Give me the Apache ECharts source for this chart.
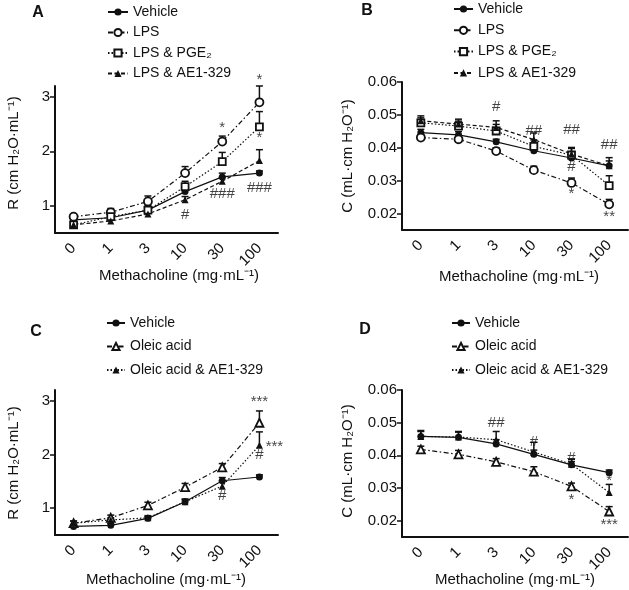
<!DOCTYPE html>
<html><head><meta charset="utf-8">
<script src="https://cdn.jsdelivr.net/npm/echarts@6/dist/echarts.min.js"></script>
<style>html,body{margin:0;padding:0;background:#fff}#c{width:629px;height:590px}</style>
</head><body><div id="c"></div>
<script>
// ---- data ----
const doses = ['0', '1', '3', '10', '30', '100'];
const rTicks = [1, 2, 3];
const cTicks = [0.02, 0.03, 0.04, 0.05, 0.06];

// Panel A: resistance (LPS)
const aVehicle = [0.74, 0.78, 0.92, 1.26, 1.53, 1.60];
const aVehicleErr = [0.05, 0.05, 0.05, 0.08, 0.07, 0.04];
const aLPS = [0.80, 0.88, 1.08, 1.60, 2.18, 2.90];
const aLPSErr = [0.05, 0.07, 0.10, 0.12, 0.10, 0.30];
const aPGE2 = [0.65, 0.80, 0.92, 1.35, 1.81, 2.45];
const aPGE2Err = [0.06, 0.10, 0.08, 0.10, 0.17, 0.28];
const aAE1 = [0.65, 0.72, 0.85, 1.11, 1.45, 1.83];
const aAE1Err = [0.04, 0.05, 0.06, 0.06, 0.07, 0.20];
// [dose index, value, text]
const aNotes = [[5, 3.15, '*'], [4, 2.43, '*'], [5, 2.25, '*'], [3, 0.83, '#'], [4, 1.22, '###'], [5, 1.33, '###']];

// Panel B: compliance (LPS)
const bVehicle = [0.0446, 0.0439, 0.0418, 0.0391, 0.0369, 0.0345];
const bVehicleErr = [0.0010, 0.0010, 0.0008, 0.0010, 0.0008, 0.0015];
const bLPS = [0.0431, 0.0426, 0.0390, 0.0332, 0.0293, 0.0228];
const bLPSErr = [0.0008, 0.0008, 0.0010, 0.0012, 0.0015, 0.0015];
const bPGE2 = [0.0476, 0.0466, 0.0451, 0.0404, 0.0378, 0.0285];
const bPGE2Err = [0.0015, 0.0015, 0.0020, 0.0020, 0.0020, 0.0030];
const bAE1 = [0.0482, 0.0472, 0.0462, 0.0425, 0.0381, 0.0345];
const bAE1Err = [0.0015, 0.0015, 0.0020, 0.0020, 0.0020, 0.0025];
const bNotes = [[2, 0.0523, '#'], [3, 0.0450, '##'], [4, 0.0455, '##'], [4, 0.0342, '#'], [5, 0.0409, '##'], [4, 0.0260, '*'], [5, 0.0189, '**']];

// Panel C: resistance (oleic acid)
const cVehicle = [0.66, 0.68, 0.81, 1.12, 1.51, 1.58];
const cVehicleErr = [0.03, 0.03, 0.03, 0.04, 0.06, 0.04];
const cOleic = [0.72, 0.82, 1.05, 1.39, 1.76, 2.59];
const cOleicErr = [0.04, 0.05, 0.06, 0.07, 0.07, 0.22];
const cOAE1 = [0.72, 0.78, 0.82, 1.12, 1.41, 2.17];
const cOAE1Err = [0.04, 0.04, 0.04, 0.05, 0.10, 0.25];
const cNotes = [[5, 2.98, '***'], [5, 2.15, '***'], [5, 2.00, '#'], [4, 1.22, '#']];

// Panel D: compliance (oleic acid)
const dVehicle = [0.0458, 0.0455, 0.0435, 0.0403, 0.0371, 0.0347];
const dVehicleErr = [0.0018, 0.0018, 0.0013, 0.0013, 0.0010, 0.0008];
const dOleic = [0.0418, 0.0403, 0.0380, 0.0350, 0.0305, 0.0228];
const dOleicErr = [0.0010, 0.0012, 0.0010, 0.0015, 0.0010, 0.0015];
const dOAE1 = [0.0458, 0.0456, 0.0448, 0.0410, 0.0373, 0.0286];
const dOAE1Err = [0.0015, 0.0015, 0.0025, 0.0030, 0.0015, 0.0025];
const dNotes = [[2, 0.0500, '##'], [3, 0.0441, '#'], [4, 0.0392, '#'], [4, 0.0265, '*'], [5, 0.0187, '***'], [5, 0.0321, '*']];

// ---- styles ----
const FONT = '"Liberation Sans", Arial, sans-serif';
const INK = '#111';
const SOLID = 'solid', DASHDOT = [5, 2.5, 1.5, 2.5], DOTTED = [1.5, 2], DASHED = [4, 2.5];
const FILLED_CIRCLE = {symbol: 'circle', size: 7, fill: INK};
const OPEN_CIRCLE = {symbol: 'circle', size: 8, fill: '#fff'};
const OPEN_SQUARE = {symbol: 'rect', size: 7, fill: '#fff'};
const FILLED_TRI = {symbol: 'triangle', size: 7, fill: INK};
const OPEN_TRI = {symbol: 'triangle', size: 8, fill: '#fff'};
// label offsets for annotations (panel, note index) -> [dx, dy]
const noteOffsets = {'0-0': [0, -9], '2-1': [15, 0]};

function lineSeries(idx, name, vals, mark, dash) {
  return {
    type: 'line', name: name, xAxisIndex: idx, yAxisIndex: idx, data: vals,
    symbol: mark.symbol, symbolSize: mark.size, z: 4,
    itemStyle: {color: mark.fill, borderColor: INK, borderWidth: mark.fill === '#fff' ? 1.8 : 0},
    lineStyle: {color: INK, width: 1.2, type: dash},
    emphasis: {disabled: true}, animation: false
  };
}
function errSeries(idx, vals, errs) {
  return {
    type: 'custom', xAxisIndex: idx, yAxisIndex: idx, silent: true, z: 3, animation: false,
    data: vals.map((v, i) => [i, v, v + errs[i]]),
    renderItem: (params, api) => {
      const p0 = api.coord([api.value(0), api.value(1)]);
      const p1 = api.coord([api.value(0), api.value(2)]);
      const w = 3.5;
      return {type: 'group', children: [
        {type: 'line', shape: {x1: p0[0], y1: p0[1], x2: p1[0], y2: p1[1]}, style: {stroke: INK, lineWidth: 1.5}},
        {type: 'line', shape: {x1: p1[0] - w, y1: p1[1], x2: p1[0] + w, y2: p1[1]}, style: {stroke: INK, lineWidth: 1.5}}
      ]};
    }
  };
}
function noteSeries(idx, notes) {
  return {
    type: 'scatter', xAxisIndex: idx, yAxisIndex: idx, silent: true, symbolSize: 1, z: 5, animation: false,
    itemStyle: {color: 'rgba(0,0,0,0)'},
    data: notes.map((n, k) => ({
      value: [n[0], n[1]],
      label: {show: true, position: 'inside', formatter: n[2], offset: noteOffsets[idx + '-' + k] || [0, 0],
        fontSize: 15, color: INK, fontFamily: FONT}
    }))
  };
}

const grids = [
  {left: 55, top: 86, width: 223, height: 147},
  {left: 402, top: 82, width: 226, height: 148},
  {left: 55, top: 390, width: 223, height: 145},
  {left: 402, top: 390, width: 226, height: 147}
];
const xAxes = grids.map((g, i) => ({
  type: 'category', gridIndex: i, data: doses, boundaryGap: true,
  axisLine: {lineStyle: {color: INK, width: 2}},
  axisTick: {alignWithLabel: true, length: 4, lineStyle: {color: INK, width: 1.5}},
  axisLabel: {rotate: 45, fontSize: 15, color: INK, fontFamily: FONT, margin: 13, padding: [8, 0, 0, 0]}
}));
function yAxis(i, isR) {
  const ticks = isR ? rTicks : cTicks;
  return {
    type: 'value', gridIndex: i, min: isR ? 0.5 : 0.015, max: isR ? 3.2 : 0.06,
    splitLine: {show: false},
    axisLine: {show: true, lineStyle: {color: INK, width: 2}},
    axisTick: {show: true, length: 5, customValues: ticks, lineStyle: {color: INK, width: 1.5}},
    axisLabel: {customValues: ticks, fontSize: 15, color: INK, fontFamily: FONT, margin: 5,
      formatter: v => isR ? String(Math.round(v)) : v.toFixed(2)}
  };
}
const yAxes = [yAxis(0, true), yAxis(1, false), yAxis(2, true), yAxis(3, false)];

const series = [
  lineSeries(0, 'Vehicle', aVehicle, FILLED_CIRCLE, SOLID), errSeries(0, aVehicle, aVehicleErr),
  lineSeries(0, 'LPS', aLPS, OPEN_CIRCLE, DASHDOT), errSeries(0, aLPS, aLPSErr),
  lineSeries(0, 'LPS & PGE₂', aPGE2, OPEN_SQUARE, DOTTED), errSeries(0, aPGE2, aPGE2Err),
  lineSeries(0, 'LPS & AE1-329', aAE1, FILLED_TRI, DASHED), errSeries(0, aAE1, aAE1Err),
  noteSeries(0, aNotes),

  lineSeries(1, 'Vehicle', bVehicle, FILLED_CIRCLE, SOLID), errSeries(1, bVehicle, bVehicleErr),
  lineSeries(1, 'LPS', bLPS, OPEN_CIRCLE, DASHDOT), errSeries(1, bLPS, bLPSErr),
  lineSeries(1, 'LPS & PGE₂', bPGE2, OPEN_SQUARE, DOTTED), errSeries(1, bPGE2, bPGE2Err),
  lineSeries(1, 'LPS & AE1-329', bAE1, FILLED_TRI, DASHED), errSeries(1, bAE1, bAE1Err),
  noteSeries(1, bNotes),

  lineSeries(2, 'Vehicle', cVehicle, FILLED_CIRCLE, SOLID), errSeries(2, cVehicle, cVehicleErr),
  lineSeries(2, 'Oleic acid', cOleic, OPEN_TRI, DASHDOT), errSeries(2, cOleic, cOleicErr),
  lineSeries(2, 'Oleic acid & AE1-329', cOAE1, FILLED_TRI, DOTTED), errSeries(2, cOAE1, cOAE1Err),
  noteSeries(2, cNotes),

  lineSeries(3, 'Vehicle', dVehicle, FILLED_CIRCLE, SOLID), errSeries(3, dVehicle, dVehicleErr),
  lineSeries(3, 'Oleic acid', dOleic, OPEN_TRI, DASHDOT), errSeries(3, dOleic, dOleicErr),
  lineSeries(3, 'Oleic acid & AE1-329', dOAE1, FILLED_TRI, DOTTED), errSeries(3, dOAE1, dOAE1Err),
  noteSeries(3, dNotes)
];

function legend(names, left, top, gap, w) {
  return {data: names, orient: 'vertical', left: left, top: top, padding: 0,
    itemWidth: w, itemHeight: 9, itemGap: gap,
    selectedMode: false, textStyle: {fontSize: 14, color: INK, fontFamily: FONT}};
}
const legends = [
  legend(['Vehicle', 'LPS', 'LPS & PGE₂', 'LPS & AE1-329'], 107, 5, 6.5, 20),
  legend(['Vehicle', 'LPS', 'LPS & PGE₂', 'LPS & AE1-329'], 453, 2, 7.3, 19),
  legend(['Vehicle', 'Oleic acid', 'Oleic acid & AE1-329'], 106, 316, 9.5, 18),
  legend(['Vehicle', 'Oleic acid', 'Oleic acid & AE1-329'], 451, 316, 9.5, 18)
];

function txt(x, y, s, size, bold, rot) {
  return {type: 'text', x: x, y: y, rotation: rot || 0, silent: true,
    style: {text: s, fill: INK, font: (bold ? 'bold ' : '') + size + 'px ' + FONT, align: 'center', verticalAlign: 'middle'}};
}
const rName = 'R (cm H₂O·mL⁻¹)';
const cName = 'C (mL·cm H₂O⁻¹)';
const xName = 'Methacholine (mg·mL⁻¹)';
const graphics = [
  txt(38, 13, 'A', 16, true), txt(367, 11, 'B', 16, true),
  txt(36, 332, 'C', 16, true), txt(365, 330, 'D', 16, true),
  txt(14, 153, rName, 15, false, Math.PI / 2), txt(348, 156, cName, 15, false, Math.PI / 2),
  txt(14, 463, rName, 15, false, Math.PI / 2), txt(348, 461, cName, 15, false, Math.PI / 2),
  txt(179, 276, xName, 15, false), txt(519, 277, xName, 15, false),
  txt(166, 580, xName, 15, false), txt(515, 580, xName, 15, false)
];

const chart = echarts.init(document.getElementById('c'), null, {renderer: 'canvas'});
chart.setOption({
  backgroundColor: '#fff', animation: false,
  textStyle: {fontFamily: FONT},
  grid: grids, xAxis: xAxes, yAxis: yAxes, legend: legends, series: series, graphic: graphics
});
</script></body></html>
